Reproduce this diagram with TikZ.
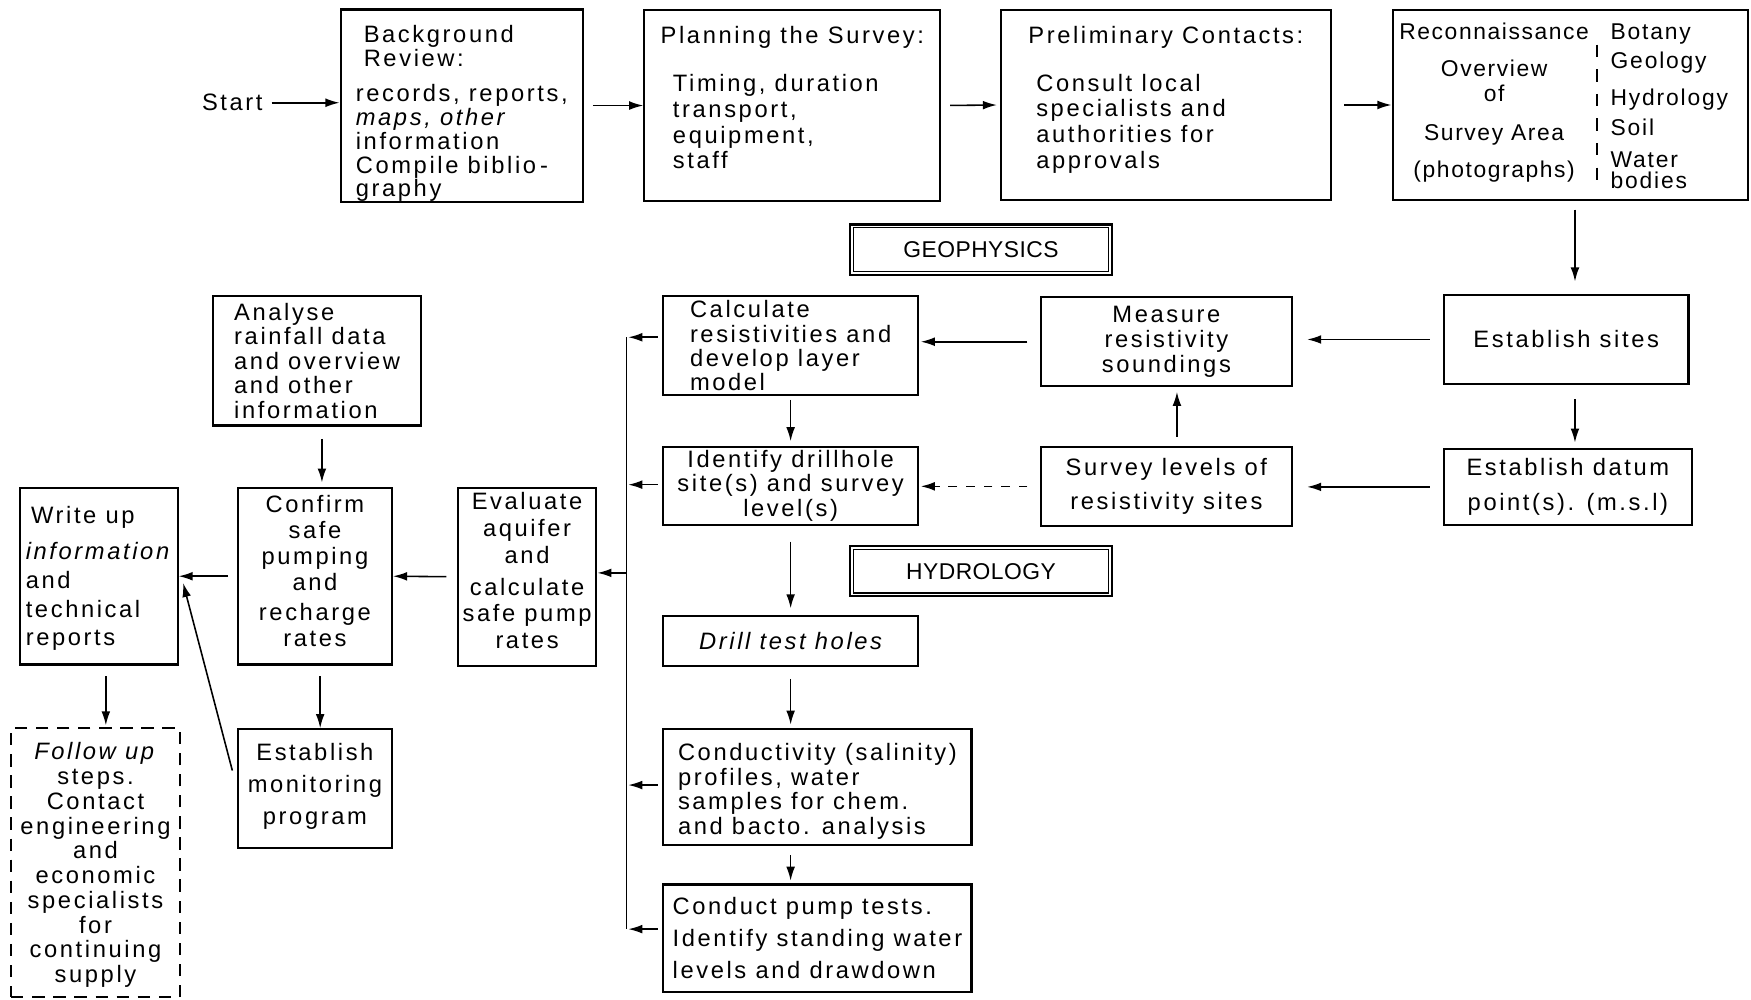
\documentclass[tikz,border=0pt]{standalone}
\usepackage{fontspec}
\setmainfont{Liberation Sans}[LetterSpace=11]
\usetikzlibrary{arrows.meta}
\newcommand\bxn[7]{\node[#2, minimum width={(#5-#3)*0.022334cm}, minimum height={(#6-#4)*0.022334cm}] (#1) at ({(#3+#5)/2},{(#4+#6)/2}) {#7};}
\begin{document}
\begin{tikzpicture}[x=0.022334cm, y=-0.022334cm,
  every node/.style={inner sep=0pt, font=\fontsize{13.5}{14}\selectfont},
  ls/.style={font=\fontsize{13.5}{#1}\selectfont},
  box/.style={draw, line width=1.2pt},
  dbox/.style={draw, line width=1.3pt},
  inner/.style={draw, line width=0.6pt},
  dashbox/.style={draw, line width=1.1pt, dash pattern=on 7pt off 5pt},
  arr/.style={line width=0.9pt, -{Latex[length=8pt,width=5pt]}},
  ]
\fill[white] (0,0) rectangle (1568,895);
\useasboundingbox (0,0) rectangle (1568,895);

% top row
\node (start) at (208,92) {Start};
\bxn{bg}{box, align=left, ls=13.6pt}{305}{9}{522}{180}{\hspace*{4.5pt}\rule{0pt}{19pt}Background\\\hspace*{4.5pt}Review:\\[6.4pt]records, reports,\\\textit{maps, other}\\information\\Compile biblio\,-\\[-0.5pt]graphy}
\bxn{plan}{box, align=left, ls=14.6pt}{577}{9}{842}{180}{Planning the Survey:\\[12.8pt]\hspace*{7pt}Timing, duration\\\hspace*{7pt}transport,\\\hspace*{7pt}equipment,\\\hspace*{7pt}staff\rule[-9pt]{0pt}{0pt}}
\bxn{pre}{box, align=left, ls=14.6pt}{896}{9}{1192}{179}{Preliminary Contacts:\\[12.8pt]\hspace*{4.5pt}Consult local\\\hspace*{4.5pt}specialists and\\\hspace*{4.5pt}authorities for\\\hspace*{4.5pt}approvals\rule[-9pt]{0pt}{0pt}}
\bxn{rec}{box}{1247}{9}{1565}{179}{}
\node[align=center, font=\fontsize{13}{14}\selectfont\addfontfeature{LetterSpace=7}] (recL) at (1338,92) {Reconnaissance\\[7pt]Overview\\of\\[8.2pt]Survey Area\\[7pt](photographs)};
\node[anchor=west, align=left, font=\fontsize{13}{12}\selectfont\addfontfeature{LetterSpace=8}] (recR) at (1442,95) {Botany\\[3.8pt]Geology\\[7.6pt]Hydrology\\[3.8pt]Soil\\[6.4pt]Water\\bodies};
\draw[line width=0.8pt, dash pattern=on 7pt off 7pt] (1430,40) -- (1430,172);

% section labels
\bxn{geo}{dbox, font=\fontsize{13}{14}\selectfont\addfontfeature{LetterSpace=2}}{761}{201}{996}{246}{GEOPHYSICS}
\draw[inner] ([shift={(4,-4)}]geo.south west) rectangle ([shift={(-4,4)}]geo.north east);
\bxn{hyd}{dbox, font=\fontsize{13}{14}\selectfont\addfontfeature{LetterSpace=2}}{761}{489}{996}{534}{HYDROLOGY}
\draw[inner] ([shift={(4,-4)}]hyd.south west) rectangle ([shift={(-4,4)}]hyd.north east);

% right column
\bxn{sites}{box}{1293}{264}{1512}{344}{Establish sites}
\bxn{dat}{box, align=center, ls=19.6pt}{1293}{402}{1515}{470}{Establish datum\\point(s). (m.s.l)}
\bxn{meas}{box, align=center, ls=14.3pt}{932}{266}{1157}{346}{Measure\\resistivity\\soundings}
\bxn{surv}{box, align=center, ls=19pt}{932}{400}{1157}{471}{Survey levels of\\resistivity sites}

% middle column
\bxn{calc}{box, align=left, ls=13.9pt}{594}{265}{822}{354}{Calculate\\resistivities and\\develop layer\\[-0.5pt]model}
\bxn{ident}{box, align=center, ls=14pt}{594}{400}{822}{470}{Identify drillhole\\site(s) and survey\\level(s)}
\bxn{drill}{box, font=\fontsize{13.5}{14}\selectfont\itshape}{594}{552}{822}{596}{Drill test holes}
\bxn{cond}{box, align=left, ls=13.9pt}{594}{653}{870}{757}{\rule{0pt}{14.5pt}Conductivity (salinity)\\profiles, water\\samples for chem.\\and bacto. analysis}
\bxn{pump}{box, align=left, ls=18.4pt}{594}{792}{870}{888}{Conduct pump tests.\\Identify standing water\\levels and drawdown}

% left part
\bxn{ana}{box, align=left, ls=13.9pt}{191}{265}{377}{381}{Analyse\\rainfall data\\and overview\\and other\\information}
\bxn{eval}{box, align=center, ls=15.2pt}{410}{437}{534}{596}{Evaluate\\aquifer\\and\\[3pt]calculate\\safe pump\\rates\rule[-7pt]{0pt}{0pt}}
\bxn{conf}{box, align=center, ls=14.8pt}{213}{437}{351}{595}{Confirm\\safe\\pumping\\and\\[2.5pt]recharge\\rates\rule[-6pt]{0pt}{0pt}}
\bxn{wr}{box, align=left, ls=16.4pt}{18}{437}{159}{595}{\rule{0pt}{12.5pt}\hspace*{3pt}Write up\\[4pt]\textit{information}\\and\\technical\\reports}
\bxn{mon}{box, align=center, ls=18.2pt}{213}{653}{351}{759}{Establish\\monitoring\\program\rule[-5pt]{0pt}{0pt}}
\bxn{fol}{dashbox, align=center, ls=14.1pt}{10}{652}{161}{893}{\rule{0pt}{12.5pt}\textit{Follow up}\\steps.\\Contact\\engineering\\and\\economic\\specialists\\for\\continuing\\supply}

% bus coordinates
\coordinate (j1) at (561,302);
\coordinate (j2) at (561,434);
\coordinate (j3) at (561,513);
\coordinate (j4) at (561,703);
\coordinate (j5) at (561,832);

% connectors top row
\draw[arr, shorten <=5pt] (start.east) -- (start.east -| bg.west);
\draw[arr, shorten <=5pt] (bg.east) -- (plan.west);
\draw[arr, shorten <=5pt, shorten >=1.5pt] (plan.east) -- (pre.west);
\draw[arr, shorten <=7pt] (pre.east) -- (rec.west);
\draw[arr, shorten <=5pt, shorten >=7pt] ([xshift=5]rec.south -| sites.north) -- ([xshift=5]sites.north);

% right part
\draw[arr, shorten <=8pt, shorten >=3pt] ([xshift=5]sites.south) -- ([xshift=5]sites.south |- dat.north);
\draw[arr, shorten <=7.5pt, shorten >=8pt] (sites.west) -- (sites.west -| meas.east);
\draw[arr, shorten <=7.5pt, shorten >=8pt] (dat.west) -- (dat.west -| surv.east);
\draw[arr, shorten <=5pt, shorten >=2.5pt] ([xshift=6]surv.north) -- ([xshift=6]meas.south);
\draw[arr, shorten <=7pt, shorten >=1pt] (meas.west) -- (meas.west -| calc.east);
\draw[arr, dash pattern=on 5pt off 5pt, shorten <=7pt, shorten >=1pt] (surv.west) -- (surv.west -| ident.east);

% middle column
\draw[arr, shorten <=2pt, shorten >=2.5pt] (calc.south) -- (ident.north);
\draw[arr, shorten <=9pt, shorten >=4pt] (ident.south) -- (drill.north);
\draw[arr, shorten <=7pt, shorten >=2pt] (drill.south) -- (drill.south |- cond.north);
\draw[arr, shorten <=5pt, shorten >=1.5pt] (cond.south -| drill.south) -- (pump.north -| drill.south);

% bus
\draw[line width=0.9pt] (j1) -- (j5);
\draw[arr, shorten <=2.5pt, shorten >=1pt] (calc.west |- j1) -- (j1);
\draw[arr, shorten <=2.5pt, shorten >=1pt] (ident.west |- j2) -- (j2);
\draw[arr, shorten <=2.5pt, shorten >=1pt] (cond.west |- j4) -- (j4);
\draw[arr, shorten <=2.5pt, shorten >=1pt] (pump.west |- j5) -- (j5);
\draw[arr] (j3) -- (j3 -| eval.east);

% left part
\draw[arr, shorten <=6pt] (eval.west) -- (conf.east);
\draw[arr, shorten <=5pt] (conf.west) -- (wr.east);
\draw[arr, shorten <=7pt, shorten >=2.5pt] ([xshift=4]ana.south -| conf.north) -- ([xshift=4]conf.north);
\draw[arr, shorten <=6pt] ([xshift=3]conf.south) -- ([xshift=3]mon.north);
\draw[arr] ([shift={(-4,-16)}]mon.west) -- ([shift={(4,6)}]wr.east);
\draw[arr, shorten <=6pt, shorten >=1pt] ([xshift=4]wr.south) -- ([xshift=4]wr.south |- fol.north);
\end{tikzpicture}
\end{document}
